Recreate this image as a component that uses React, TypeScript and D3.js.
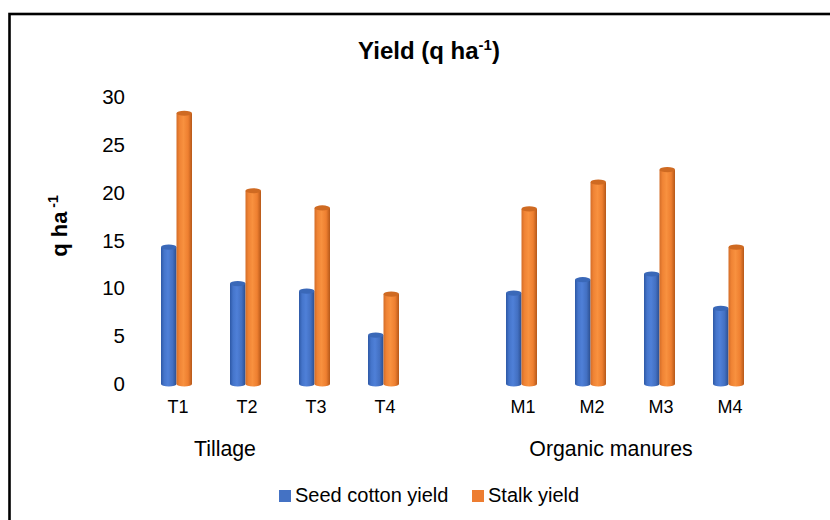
import React from "react";
import * as d3 from "d3";

// ---- data ----
const tillageCats = ["T1", "T2", "T3", "T4"];
const manureCats = ["M1", "M2", "M3", "M4"];
const groupNames = ["Tillage", "Organic manures"];
const seriesNames = ["Seed cotton yield", "Stalk yield"];
const seedCottonYield = [14.3, 10.5, 9.7, 5.1, 9.5, 10.9, 11.5, 7.9];
const stalkYield = [28.3, 20.2, 18.4, 9.4, 18.3, 21.1, 22.4, 14.3];
const yTicks = [0, 5, 10, 15, 20, 25, 30];

// ---- layout ----
const W = 830;
const H = 520;
const FONT = "'Liberation Sans', Arial, sans-serif";
const plotLeft = 142;
const plotRight = 763;
const yZero = 384;
const yTop = 97;
const barW = 15.5;
const ry = 2.6;
const groupLabelX = [225, 611];

const GAP = "__gap__";
const allCats = [...tillageCats, GAP, ...manureCats];
const dataCats = [...tillageCats, ...manureCats];

const x = d3.scaleBand<string>().domain(allCats).range([plotLeft, plotRight]).padding(0);
const inner = d3.scaleBand<string>().domain(seriesNames).range([-barW, barW]).padding(0);
const y = d3.scaleLinear().domain([0, 30]).range([yZero, yTop]);

const palette = [
  {
    stops: ["#2d58a5", "#4575cb", "#4f80d8", "#4370c2", "#2b4e8f"],
    top: "#3a68b8",
    legend: "#4472C4",
  },
  {
    stops: ["#d46d28", "#f08435", "#f8913f", "#ee7f30", "#b65819"],
    top: "#cf6a22",
    legend: "#ED7D31",
  },
];
const stopOffsets = ["0%", "20%", "45%", "75%", "100%"];

function Cylinder({ cx0, value, si }: { cx0: number; value: number; si: number }) {
  const x0 = cx0;
  const x1 = cx0 + barW;
  const rx = barW / 2;
  const yt = y(value);
  const yb = y(0);
  const body = `M${x0},${yt} L${x0},${yb} A${rx},${ry} 0 0 0 ${x1},${yb} L${x1},${yt} Z`;
  return (
    <g>
      <path d={body} fill={`url(#grad${si})`} />
      <ellipse cx={x0 + rx} cy={yt} rx={rx} ry={ry} fill={palette[si].top} />
    </g>
  );
}

export default function App() {
  const series = [seedCottonYield, stalkYield];
  return (
    <svg
      width={W}
      height={H}
      style={{ position: "absolute", left: 0, top: 0, background: "#fff" }}
      fontFamily={FONT}
    >
      <defs>
        {palette.map((p, i) => (
          <linearGradient key={i} id={`grad${i}`} x1="0" x2="1" y1="0" y2="0">
            {p.stops.map((c, j) => (
              <stop key={j} offset={stopOffsets[j]} stopColor={c} />
            ))}
          </linearGradient>
        ))}
      </defs>
      <rect x={0} y={0} width={W} height={H} fill="#fff" />
      {/* frame */}
      <rect x={9.5} y={14} width={900} height={600} fill="none" stroke="#000" strokeWidth={2.6} />

      {/* title */}
      <text x={429} y={59} textAnchor="middle" fontSize={24} fontWeight="bold" fill="#000">
        Yield (q ha
        <tspan fontSize={15} dy={-9}>-1</tspan>
        <tspan dy={9}>)</tspan>
      </text>

      {/* y tick labels */}
      {yTicks.map((t) => (
        <text key={t} x={125} y={y(t) + 7} textAnchor="end" fontSize={20.5} fill="#000">
          {t}
        </text>
      ))}

      {/* y axis title */}
      <text
        transform={`translate(67,226) rotate(-90)`}
        textAnchor="middle"
        fontSize={22}
        fontWeight="bold"
        fill="#000"
      >
        q ha
        <tspan fontSize={14} dy={-9}> -1</tspan>
      </text>

      {/* bars */}
      {dataCats.map((c, ci) =>
        seriesNames.map((s, si) => (
          <Cylinder
            key={c + s}
            cx0={(x(c) as number) + x.bandwidth() / 2 + (inner(s) as number)}
            value={series[si][ci]}
            si={si}
          />
        ))
      )}

      {/* category labels */}
      {dataCats.map((c) => (
        <text
          key={c}
          x={(x(c) as number) + x.bandwidth() / 2 + 1.5}
          y={413}
          textAnchor="middle"
          fontSize={18}
          fill="#000"
        >
          {c}
        </text>
      ))}

      {/* group labels */}
      {groupNames.map((g, i) => (
        <text key={g} x={groupLabelX[i]} y={456} textAnchor="middle" fontSize={21.3} fill="#000">
          {g}
        </text>
      ))}

      {/* legend */}
      <rect x={279} y={490} width={12} height={12} fill={palette[0].legend} />
      <text x={295} y={502} fontSize={20} fill="#000">
        {seriesNames[0]}
      </text>
      <rect x={472} y={490} width={12} height={12} fill={palette[1].legend} />
      <text x={488} y={502} fontSize={20} fill="#000">
        {seriesNames[1]}
      </text>
    </svg>
  );
}
